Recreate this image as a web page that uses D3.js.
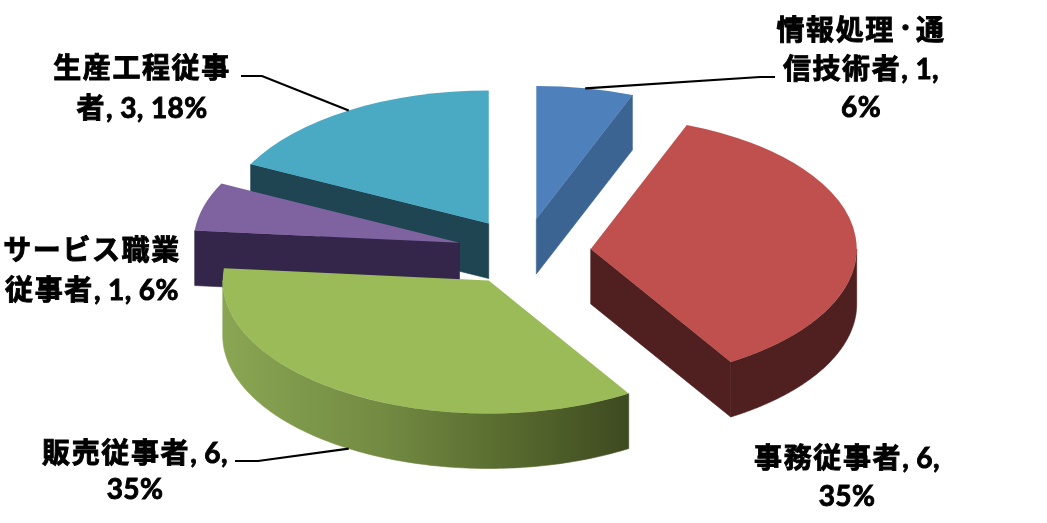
<!DOCTYPE html>
<html lang="ja">
<head>
<meta charset="utf-8">
<script src="https://cdn.jsdelivr.net/npm/d3@7"></script>
<style>
html,body{margin:0;padding:0;background:#fff;}
svg{display:block;filter:blur(0.4px);}
text{font-family:Lato,"Noto Sans CJK JP",sans-serif;font-weight:700;font-size:28px;fill:#000;stroke:#000;stroke-width:0.9px;text-anchor:middle;}
tspan.cjk{letter-spacing:1.6px;}
tspan.lat{letter-spacing:0.4px;}
tspan.dot{font-size:21px;}
</style>
</head>
<body>
<svg id="chart" width="1047" height="523"></svg>
<script>
const categories = ["情報処理・通信技術者", "事務従事者", "販売従事者", "サービス職業従事者", "生産工程従事者"];
const values = [1, 6, 6, 1, 3];
const labelLines = [
  ["情報処理・通", "信技術者, 1,", "6%"],
  ["事務従事者, 6,", "35%"],
  ["販売従事者, 6,", "35%"],
  ["サービス職業", "従事者, 1, 6%"],
  ["生産工程従事", "者, 3, 18%"]
];
const topColors = ["#4e80bb", "#bf504d", "#9bbb59", "#7f62a0", "#4aa9c3"];
const wallColors = ["#3b6492", "#4f201f", "url(#greenWall)", "#33264a", "#1e4551"];

// layout
const W = 1047, H = 523;
const cx = 524, cy = 252, rx = 266, tilt = 0.5, depth = 55, explode = 67;
const dotRaise = 5;
const labelPos = [
  {x: 861, y: [40, 79, 117]},
  {x: 847, y: [468, 506]},
  {x: 135, y: [463, 499]},
  {x: 92,  y: [260, 300]},
  {x: 142, y: [78, 118]}
];
const leaders = [
  {to: [[760, 77], [775, 77]], bottom: false},
  null,
  {to: [[258, 461], [235, 461]], bottom: true},
  null,
  {to: [[262, 76], [241, 76]], bottom: false}
];

const svg = d3.select("#chart");
const defs = svg.append("defs");
const grad = defs.append("linearGradient").attr("id", "greenWall")
  .attr("gradientUnits", "userSpaceOnUse")
  .attr("x1", 222).attr("x2", 628).attr("y1", 0).attr("y2", 0);
[[0, "#8aa653"], [0.4, "#728a42"], [0.75, "#54662c"], [1, "#3e4a20"]].forEach(([o, c]) =>
  grad.append("stop").attr("offset", o).attr("stop-color", c));

const arcs = d3.pie().sort(null).startAngle(0).endAngle(2 * Math.PI)(values);
arcs.forEach((d, i) => {
  d.index0 = i;
  d.mid = (d.startAngle + d.endAngle) / 2;
  d.ax = cx + explode * Math.sin(d.mid);
  d.ay = cy - explode * tilt * Math.cos(d.mid);
  d.rim = a => [d.ax + rx * Math.sin(a), d.ay - rx * tilt * Math.cos(a)];
});

const line = d3.line();
const down = p => [p[0], p[1] + depth];
const arcGen = d3.arc().innerRadius(0).outerRadius(rx);

const order = arcs.slice().sort((a, b) => Math.cos(b.mid) - Math.cos(a.mid));
order.forEach(d => {
  const g = svg.append("g").attr("class", "slice");
  const i = d.index0;
  const apex = [d.ax, d.ay];
  const wall = pathD => g.append("path").attr("d", pathD)
    .attr("fill", wallColors[i]).attr("stroke", wallColors[i]).attr("stroke-width", 0.6);
  const face = a => {
    const r = d.rim(a);
    return line([apex, r, down(r), down(apex)]) + "Z";
  };
  // radial cut faces
  if (Math.sin(d.startAngle) < -1e-6) wall(face(d.startAngle));
  if (Math.sin(d.endAngle) > 1e-6) wall(face(d.endAngle));
  // curved outer wall
  const a0 = Math.max(d.startAngle, Math.PI / 2), a1 = Math.min(d.endAngle, 3 * Math.PI / 2);
  if (a1 > a0) {
    const ts = d3.range(0, 121).map(k => a0 + (a1 - a0) * k / 120);
    const upper = ts.map(d.rim);
    wall(line(upper.concat(upper.map(down).reverse())) + "Z");
  }
  // top face
  g.append("path")
    .attr("transform", `translate(${d.ax},${d.ay}) scale(1,${tilt})`)
    .attr("d", arcGen(d))
    .attr("fill", topColors[i]);
});

// leader lines
arcs.forEach((d, i) => {
  if (!leaders[i]) return;
  let s = d.rim(d.mid);
  if (leaders[i].bottom) s = down(s);
  svg.append("path").attr("d", line([s].concat(leaders[i].to)))
    .attr("fill", "none").attr("stroke", "#000").attr("stroke-width", 2.2);
});

// labels: CJK runs are tracked a little wider than Latin runs, the middle dot is set small and raised
const cjkRun = /[\u3040-\u30fa\u30fc-\u30ff\u4e00-\u9fff]/;
labelLines.forEach((lines, i) => {
  lines.forEach((t, k) => {
    const el = svg.append("text").attr("x", labelPos[i].x).attr("y", labelPos[i].y[k]);
    let afterDot = false;
    (t.match(/・|[\u3040-\u30fa\u30fc-\u30ff\u4e00-\u9fff]+|[^\u3040-\u30ff\u4e00-\u9fff]+/g) || []).forEach(run => {
      const isDot = run === "・";
      const sp = el.append("tspan").attr("class", isDot ? "dot" : cjkRun.test(run) ? "cjk" : "lat").text(run);
      if (isDot) sp.attr("dy", -dotRaise);
      else if (afterDot) sp.attr("dy", dotRaise);
      afterDot = isDot;
    });
  });
});
</script>
</body>
</html>
